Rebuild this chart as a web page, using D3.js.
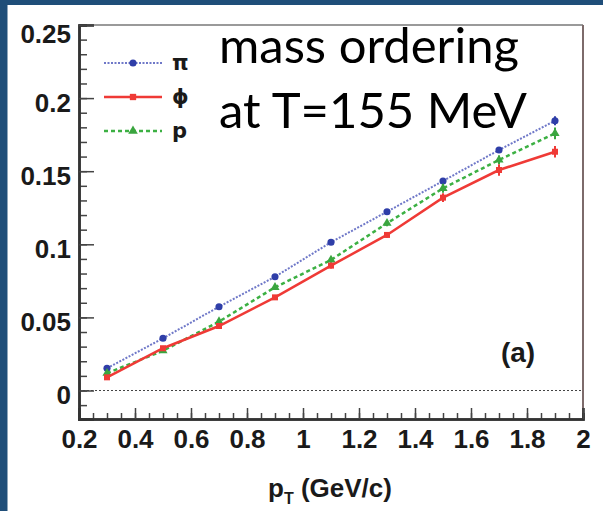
<!DOCTYPE html>
<html><head><meta charset="utf-8">
<script src="https://cdn.jsdelivr.net/npm/d3@7/dist/d3.min.js"></script>
<style>html,body{margin:0;padding:0;background:#1f4e79;}svg{display:block;}</style>
</head><body>
<svg id="c" width="603" height="511"></svg>
<script>
const pT = [0.3, 0.5, 0.7, 0.9, 1.1, 1.3, 1.5, 1.7, 1.9];
const piVals  = [0.0152, 0.0357, 0.0573, 0.0778, 0.1014, 0.1223, 0.1433, 0.1645, 0.1845];
const phiVals = [0.0090, 0.0289, 0.0441, 0.0637, 0.0854, 0.1064, 0.1319, 0.1508, 0.1633];
const pVals   = [0.0118, 0.0272, 0.0471, 0.0706, 0.0893, 0.1144, 0.1383, 0.1577, 0.1759];
const piErr  = [0.001, 0.001, 0.001, 0.001, 0.001, 0.0015, 0.002, 0.002, 0.003];
const phiErr = [0.001, 0.001, 0.001, 0.0015, 0.002, 0.002, 0.003, 0.004, 0.004];
const pErr   = [0.001, 0.001, 0.001, 0.0015, 0.002, 0.002, 0.003, 0.003, 0.004];
const xTicks = [0.2, 0.4, 0.6, 0.8, 1, 1.2, 1.4, 1.6, 1.8, 2];
const yTicks = [0, 0.05, 0.1, 0.15, 0.2, 0.25];
const seriesNames = ["π", "ϕ", "p"];

const svg = d3.select("#c");
svg.append("rect").attr("x", 7.5).attr("y", 5).attr("width", 603 - 7.5).attr("height", 511 - 5).attr("fill", "#fff");

const L = 79, R = 583, T = 25, B = 419;
const x = d3.scaleLinear().domain([0.2, 2.0]).range([L, R]);
const y = d3.scaleLinear().domain([-0.0195, 0.25]).range([B, T]);

// frame top & right
svg.append("line").attr("x1", L).attr("x2", R).attr("y1", T).attr("y2", T).attr("stroke", "#9a9a9a").attr("stroke-width", 2);
svg.append("line").attr("x1", R).attr("x2", R).attr("y1", T).attr("y2", B).attr("stroke", "#7d6b6b").attr("stroke-width", 2);

// zero dotted line
svg.append("line").attr("x1", L).attr("x2", R).attr("y1", y(0)).attr("y2", y(0))
  .attr("stroke", "#444").attr("stroke-width", 1.2).attr("stroke-dasharray", "2,2");

// axes
const font = "'Liberation Sans', Arial, Helvetica, sans-serif";
const xMinor = d3.range(0.2, 2.0001, 0.05).map(v => +v.toFixed(2));
const yMinor = d3.range(-0.01, 0.2501, 0.01).map(v => +v.toFixed(2));

const gx = svg.append("g").attr("transform", `translate(0,${B})`);
gx.call(d3.axisBottom(x).tickValues(xMinor).tickSize(-6).tickFormat(""));
gx.append("g").call(d3.axisBottom(x).tickValues(xTicks).tickSize(-11).tickPadding(11).tickFormat(d3.format("")));
gx.selectAll(".domain").attr("stroke", "#333").attr("stroke-width", 2.5);
gx.selectAll(".tick line").attr("stroke", "#444").attr("stroke-width", 1.5);
gx.selectAll("text").attr("font-family", font).attr("font-weight", "bold").attr("font-size", 26).attr("fill", "#1a1a1a").attr("dy", "0.71em");

const gy = svg.append("g").attr("transform", `translate(${L},0)`);
gy.call(d3.axisLeft(y).tickValues(yMinor).tickSize(-8).tickFormat(""));
gy.append("g").call(d3.axisLeft(y).tickValues(yTicks).tickSize(-15).tickPadding(8).tickFormat(d3.format("")));
gy.selectAll(".domain").attr("stroke", "#333").attr("stroke-width", 2.5);
gy.selectAll(".tick line").attr("stroke", "#444").attr("stroke-width", 1.5);
gy.selectAll("text").attr("font-family", font).attr("font-weight", "bold").attr("font-size", 26).attr("fill", "#1a1a1a")
  .attr("dy", d => d === 0.25 ? "0.68em" : "0.5em");

// series
const series = [
  {name: seriesNames[0], vals: piVals, err: piErr, color: "#2f3ea8", lineColor: "#6f78c8", width: 2, dash: "2,1.5", marker: "circle"},
  {name: seriesNames[2], vals: pVals, err: pErr, color: "#3aa53f", lineColor: "#3cb043", width: 2.5, dash: "4,3", marker: "triangle"},
  {name: seriesNames[1], vals: phiVals, err: phiErr, color: "#ef3a36", lineColor: "#ef3a36", width: 2.5, dash: null, marker: "square"}
];
const line = d3.line().x(d => x(d[0])).y(d => y(d[1]));
const sym = {circle: d3.symbolCircle, square: d3.symbolSquare, triangle: d3.symbolTriangle};

series.forEach(s => {
  const pts = pT.map((v, i) => [v, s.vals[i], s.err[i]]);
  const g = svg.append("g");
  g.append("path").attr("d", line(pts)).attr("fill", "none").attr("stroke", s.lineColor)
    .attr("stroke-width", s.width).attr("stroke-dasharray", s.dash);
  g.selectAll("line.err").data(pts).enter().append("line")
    .attr("x1", d => x(d[0])).attr("x2", d => x(d[0]))
    .attr("y1", d => y(d[1] - d[2])).attr("y2", d => y(d[1] + d[2]))
    .attr("stroke", s.color).attr("stroke-width", 2);
  g.selectAll("path.m").data(pts).enter().append("path")
    .attr("transform", d => `translate(${x(d[0])},${y(d[1])})`)
    .attr("d", d3.symbol().type(sym[s.marker]).size(s.marker === "circle" ? 40 : 36))
    .attr("fill", s.color);
});

// legend
const legend = [
  {label: seriesNames[0], s: series[0]},
  {label: seriesNames[1], s: series[2]},
  {label: seriesNames[2], s: series[1]}
];
legend.forEach((l, i) => {
  const ly = 63 + i * 34;
  svg.append("line").attr("x1", 104).attr("x2", 162).attr("y1", ly).attr("y2", ly)
    .attr("stroke", l.s.lineColor).attr("stroke-width", l.s.width).attr("stroke-dasharray", l.s.dash);
  svg.append("path").attr("transform", `translate(133,${ly})`)
    .attr("d", d3.symbol().type(sym[l.s.marker]).size(40)).attr("fill", l.s.color);
  svg.append("text").attr("x", 172).attr("y", ly).attr("dy", "0.35em")
    .attr("font-family", "'DejaVu Sans', sans-serif").attr("font-weight", "bold").attr("font-size", 21).attr("fill", "#1a1a1a").text(l.label);
});

// annotation text
svg.append("text").attr("x", 219).attr("y", 63).attr("font-family", "Lato, 'Open Sans', sans-serif")
  .attr("font-size", 49).attr("fill", "#000").text("mass ordering");
svg.append("text").attr("x", 219).attr("y", 128).attr("font-family", "Lato, 'Open Sans', sans-serif")
  .attr("font-size", 49).attr("fill", "#000").text("at T=155 MeV");

svg.append("text").attr("x", 518).attr("y", 362).attr("text-anchor", "middle").attr("font-family", font)
  .attr("font-weight", "bold").attr("font-size", 28).attr("fill", "#1a1a1a").text("(a)");

// x axis title
const t = svg.append("text").attr("x", 330).attr("y", 497).attr("text-anchor", "middle")
  .attr("font-family", font).attr("font-weight", "bold").attr("font-size", 26).attr("fill", "#1a1a1a");
t.append("tspan").text("p");
t.append("tspan").attr("font-size", 16).attr("dy", 7).text("T");
t.append("tspan").attr("dy", -7).text(" (GeV/c)");
</script>
</body></html>
